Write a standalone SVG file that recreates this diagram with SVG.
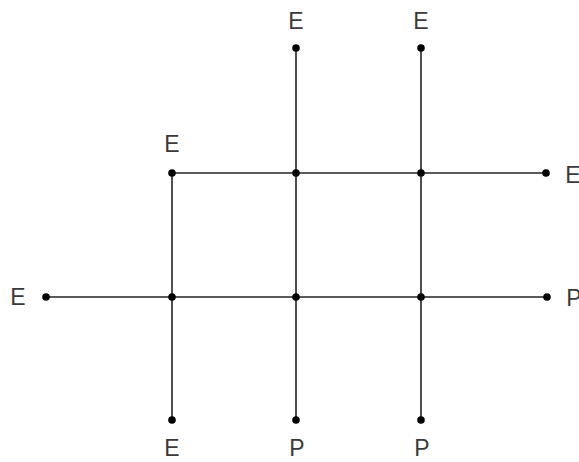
<svg xmlns="http://www.w3.org/2000/svg" width="579" height="462" viewBox="0 0 579 462">
<style>
.e{stroke:#222;stroke-width:1.6;fill:none}
.d{fill:#000}
text{font-family:"Liberation Sans",Arial,sans-serif;font-size:23px;fill:#3a3a3a;text-anchor:middle;dominant-baseline:central}
</style>
<rect width="579" height="462" fill="#fff"/>
<g id="connectors">
<line class="e" x1="296" y1="48" x2="296" y2="420"/>
<line class="e" x1="421" y1="48" x2="421" y2="420"/>
<line class="e" x1="172" y1="173" x2="172" y2="420"/>
<line class="e" x1="172" y1="173" x2="546" y2="173"/>
<line class="e" x1="46" y1="297" x2="547" y2="297"/>
</g>
<g id="n1"><circle class="d" cx="296" cy="48" r="3.8"/><text x="296" y="21">E</text></g>
<g id="n2"><circle class="d" cx="421" cy="48" r="3.8"/><text x="421" y="21">E</text></g>
<g id="n3"><circle class="d" cx="172" cy="173" r="3.8"/><text x="172" y="144">E</text></g>
<g id="n4"><circle class="d" cx="296" cy="173" r="3.8"/></g>
<g id="n5"><circle class="d" cx="421" cy="173" r="3.8"/></g>
<g id="n6"><circle class="d" cx="546" cy="173" r="3.8"/><text x="573" y="175">E</text></g>
<g id="n7"><circle class="d" cx="46" cy="297" r="3.8"/><text x="18" y="297">E</text></g>
<g id="n8"><circle class="d" cx="172" cy="297" r="3.8"/></g>
<g id="n9"><circle class="d" cx="296" cy="297" r="3.8"/></g>
<g id="n10"><circle class="d" cx="421" cy="297" r="3.8"/></g>
<g id="n11"><circle class="d" cx="547" cy="297" r="3.8"/><text x="574" y="298">P</text></g>
<g id="n12"><circle class="d" cx="172" cy="420" r="3.8"/><text x="172" y="448">E</text></g>
<g id="n13"><circle class="d" cx="296" cy="420" r="3.8"/><text x="297" y="448">P</text></g>
<g id="n14"><circle class="d" cx="421" cy="420" r="3.8"/><text x="422" y="448">P</text></g>
</svg>
